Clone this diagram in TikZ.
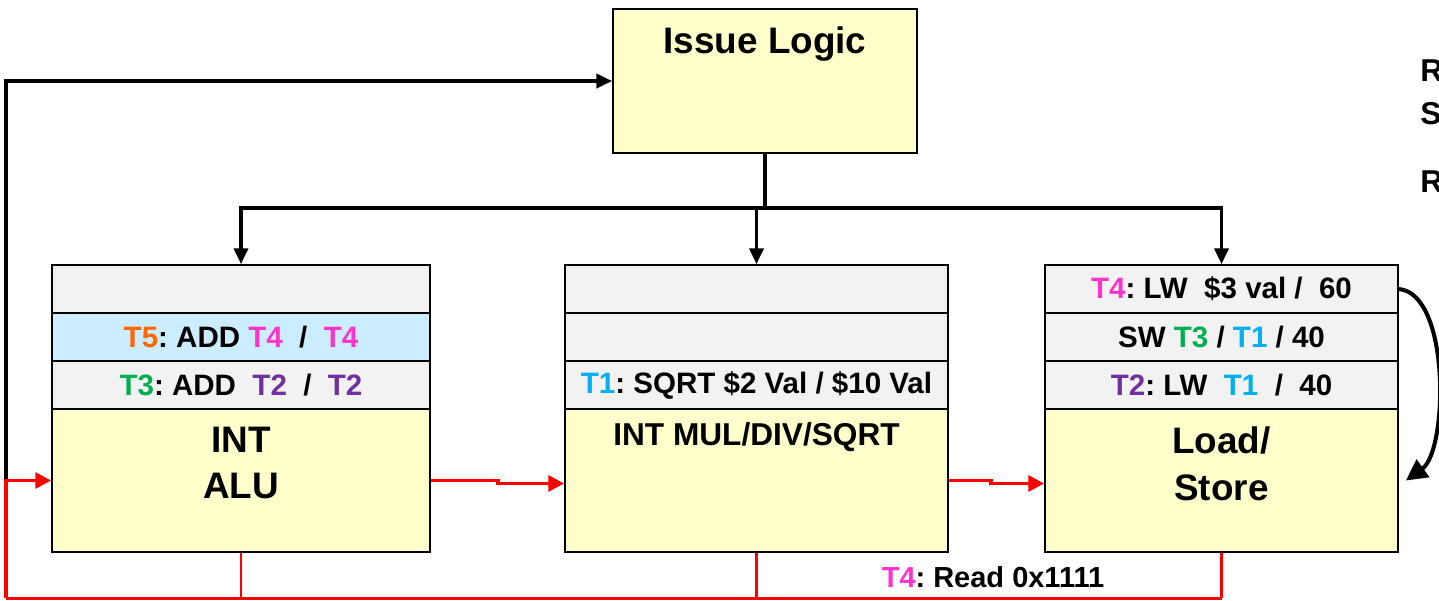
\documentclass[tikz,border=0pt]{standalone}
\usepackage{fontspec}
\setmainfont{Liberation Sans}
\usetikzlibrary{arrows.meta,calc}
\definecolor{slotgray}{HTML}{F2F2F2}
\definecolor{busyblue}{HTML}{CCECFF}
\definecolor{unityellow}{HTML}{FFFFCC}
\definecolor{t1}{HTML}{00B0F0}
\definecolor{t2}{HTML}{7030A0}
\definecolor{t3}{HTML}{00B050}
\definecolor{t4}{HTML}{FF33CC}
\definecolor{t5}{HTML}{FF6600}
\newcommand{\tid}[1]{\textcolor{t#1}{T#1}}
\frenchspacing

\begin{document}
\begin{tikzpicture}[x=0.02cm,y=-0.02cm,
  slot/.style={draw=black,line width=1pt,fill=slotgray,minimum height=0.96cm,inner sep=0pt,
               font=\fontsize{16.8}{20}\selectfont\bfseries},
  busy/.style={slot,fill=busyblue},
  unit/.style={draw=black,line width=1pt,fill=unityellow,minimum height=2.86cm,inner sep=0pt},
  big/.style={align=center,font=\fontsize{21}{26.6}\selectfont\bfseries},
  arr/.style={-{Triangle[length=9pt,width=8pt]},line width=2pt},
  rarr/.style={-{Triangle[length=9pt,width=9pt]},line width=2pt,red},
  rline/.style={line width=1.7pt,red}]
  \useasboundingbox (0,0) rectangle (1439,600);
  % ---- issue logic
  \node[unit,minimum width=6.08cm,minimum height=2.88cm] (issue) at (765,81) {};
  \node[big] (issuetxt) at (765,44) {Issue Logic};
  % ---- integer ALU
  \node[slot,minimum width=7.56cm] (alu1) at (241,289) {};
  \node[busy,minimum width=7.56cm] (alu2) at (241,337) {\tid{5}: ADD \tid{4}~ / ~\tid{4}};
  \node[slot,minimum width=7.56cm] (alu3) at (241,385) {\tid{3}: ADD~ \tid{2}~ / ~\tid{2}};
  \node[unit,minimum width=7.56cm] (alub) at (241,480.5) {};
  \node[big] (alutxt) at (241,463) {INT\\ALU};
  % ---- mul/div/sqrt
  \node[slot,minimum width=7.66cm] (mul1) at (756.5,289) {};
  \node[slot,minimum width=7.66cm] (mul2) at (756.5,337) {};
  \node[slot,minimum width=7.66cm] (mul3) at (756.5,385) {\tid{1}: SQRT \$2 Val / \$10 Val};
  \node[unit,minimum width=7.66cm] (mulb) at (756.5,480.5) {};
  \node[big,font=\fontsize{18}{22}\selectfont\bfseries] (multxt) at (756.5,437) {INT MUL/DIV/SQRT};
  % ---- load/store
  \node[slot,minimum width=7.06cm] (ls1) at (1221.5,289) {\tid{4}: LW~ \$3 val /~ 60};
  \node[slot,minimum width=7.06cm] (ls2) at (1221.5,337) {SW \tid{3} / \tid{1} / 40};
  \node[slot,minimum width=7.06cm] (ls3) at (1221.5,385) {\tid{2}: LW~ \tid{1}~ /~ 40};
  \node[unit,minimum width=7.06cm] (lsb) at (1221.5,480.5) {};
  \node[big] (lstxt) at (1221.5,464) {Load/\\Store};
  % ---- issue bus
  \coordinate (split) at (765,208);
  \draw[line width=2pt] (issue.south) -- (split);
  \draw[arr] (split) -| (alu1.north);
  \draw[arr] (split) -| (ls1.north);
  \draw[arr] (mul1.north |- split) -- (mul1.north);
  % ---- result bus and feedback
  \coordinate (loop) at (6,598);
  \draw[arr] (alub.west -| loop) |- (issue.west);
  \draw[rarr] (loop) -- (alub.west -| loop) -- (alub.west);
  \draw[rline] (loop) -- (loop -| lsb.south);
  \foreach \n in {alub,mulb,lsb} \draw[rline] (\n.south) -- (\n.south |- loop);
  \draw[rarr] (alub.east) -- +(67,0) |- ([yshift=-1.7pt]mulb.west);
  \draw[rarr] (mulb.east) -- +(42,0) |- ([yshift=-1.7pt]lsb.west);
  \node[font=\fontsize{16.5}{19}\selectfont\bfseries] (memreq) at (993,577) {\tid{4}: Read 0x1111};
  % ---- replay
  \draw[-{Triangle[length=12pt,width=12pt]},line width=2.3pt]
       (ls1.east) .. controls +(52,5) and +(42,-30) .. ([xshift=4pt]lsb.east);
  % ---- right margin
  \node[anchor=west,inner sep=0pt,font=\fontsize{18}{21}\selectfont\bfseries] (rtop) at (1420,71) {R};
  \node[anchor=west,inner sep=0pt,font=\fontsize{18}{21}\selectfont\bfseries] (rmid) at (1420,114) {S};
  \node[anchor=west,inner sep=0pt,font=\fontsize{18}{21}\selectfont\bfseries] (rbot) at (1420,182) {R};
\end{tikzpicture}
\end{document}
